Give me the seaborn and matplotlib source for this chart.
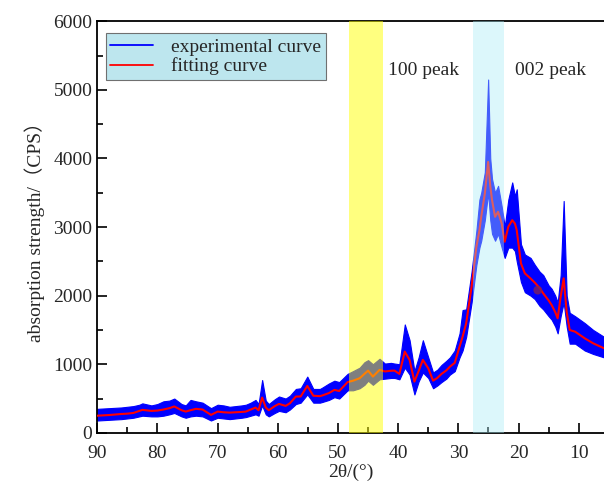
import matplotlib
matplotlib.use('Agg')
import numpy as np
import pandas as pd
import matplotlib.pyplot as plt
import seaborn as sns
from matplotlib.lines import Line2D
from matplotlib.ticker import MultipleLocator

# 2theta grid (deg), fitted curve, and the noisy experimental band (low / high)
two_theta = [90, 88, 86, 85, 84, 83, 82.5, 81, 80, 79, 78, 77.2, 76, 75.3, 74.5, 73.6,
             72.5, 71.1, 70, 69, 68, 67, 66, 65.3, 64.5, 63.7, 63.2, 62.6, 62.0, 61.5,
             60.5, 59.8, 58.7, 58, 57.0, 56.2, 55.1, 54.1, 53, 52.6, 51.5, 50.6, 49.8,
             48.4, 47.5, 46.4, 45.6, 45.0, 44.2, 43.1, 42.2, 41.2, 40.6, 39.8, 38.9,
             38.1, 37.3, 36.6, 35.9, 35.0, 34.2, 33.5, 32.8, 32.0, 31.4, 30.6, 29.8,
             29.3, 28.7, 27.8, 27.0, 26.5, 26.2, 25.6, 25.05, 24.7, 24.4, 23.9, 23.4,
             22.8, 22.3, 21.7, 21.05, 20.6, 20.3, 19.6, 18.95, 18, 17.3, 16.5, 15.9,
             15.0, 14.5, 13.9, 13.5, 13.0, 12.5, 12.0, 11.5, 10.6, 9.0, 7.6, 5.8]
fit = [250, 260, 275, 280, 290, 320, 335, 320, 325, 340, 360, 385, 330, 310, 330, 350,
       340, 262, 310, 300, 295, 300, 305, 310, 340, 368, 330, 514, 370, 330,
       390, 422, 393, 430, 529, 530, 684, 541, 535, 545, 580, 626, 610,
       740, 760, 796, 860, 907, 820, 917, 895, 905, 907, 859, 1184,
       1063, 747, 900, 1063, 941, 761, 800, 859, 910, 965, 1020, 1257,
       1400, 1597, 2130, 2712, 2950, 3149, 3489, 3949, 3600, 3392, 3149, 3222,
       3052, 2785, 3003, 3100, 3050, 2955, 2470, 2325, 2250, 2190, 2110, 2033,
       1930, 1863, 1760, 1669, 1984, 2252, 1760, 1499, 1475, 1378, 1305, 1233]
exp_low = [180, 190, 200, 210, 220, 240, 250, 240, 240, 250, 270, 290, 240, 220, 240, 250,
           240, 180, 220, 210, 200, 210, 220, 230, 250, 270, 250, 400, 270, 240,
           290, 320, 300, 340, 420, 440, 560, 440, 440, 450, 480, 520, 500,
           620, 620, 650, 700, 760, 700, 780, 790, 800, 800, 780, 950,
           850, 560, 750, 880, 800, 650, 690, 740, 790, 850, 900, 1100,
           1200, 1400, 1900, 2450, 2700, 2800, 3100, 3500, 3100, 2900, 2800, 2900,
           2700, 2550, 2700, 2700, 2650, 2500, 2200, 2050, 2000, 1950, 1850, 1800,
           1700, 1650, 1550, 1450, 1700, 1900, 1550, 1300, 1300, 1200, 1150, 1100]
exp_high = [350, 360, 370, 380, 390, 410, 430, 400, 420, 460, 470, 500, 420, 400, 480, 460,
            440, 360, 410, 400, 380, 390, 400, 410, 440, 480, 420, 770, 470, 420,
            490, 530, 500, 540, 640, 650, 820, 640, 640, 660, 720, 760, 740,
            860, 900, 950, 1030, 1060, 1000, 1080, 1010, 1020, 1010, 1000, 1580,
            1350, 900, 1100, 1350, 1100, 880, 920, 990, 1050, 1100, 1200, 1450,
            1790, 1800, 2350, 2950, 3400, 3500, 3800, 5150, 4000, 3700, 3500, 3600,
            3300, 3000, 3400, 3650, 3450, 3550, 2750, 2600, 2550, 2450, 2350, 2300,
            2150, 2100, 2000, 1900, 2300, 3380, 2000, 1750, 1700, 1600, 1500, 1400]

# odd dark blob seen on the reference
blob_x = [16.8]
blob_y = [2080]

df = pd.DataFrame({'two_theta': two_theta, 'fit': fit, 'low': exp_low, 'high': exp_high})

sns.set_style('ticks')
plt.rcParams['font.family'] = ['Liberation Serif', 'Noto Sans CJK SC']

fig = plt.figure(figsize=(6.04, 4.93), dpi=100)
ax = fig.add_axes([0.161, 0.122, 0.839, 0.835])

ax.fill_between(df['two_theta'], df['low'], df['high'], color='#0000FF', lw=0.8, zorder=2)
sns.lineplot(data=df, x='two_theta', y='fit', color='#FF0000', lw=1.5, ax=ax, zorder=3)
ax.scatter(blob_x, blob_y, s=40, color='#80205A', alpha=0.8, zorder=4, edgecolors='none')

# highlighted regions drawn over the curves
ax.axvspan(42.6, 48.1, color='#FFFF00', alpha=0.5, lw=0, zorder=5)
ax.axvspan(22.45, 27.6, color='#A8EBF5', alpha=0.4, lw=0, zorder=5)

ax.text(41.7, 5280, '100 peak', fontsize=14, va='center', ha='left', zorder=6)
ax.text(20.6, 5280, '002 peak', fontsize=14, va='center', ha='left', zorder=6)

ax.set_xlim(90, 5.8)
ax.set_ylim(0, 6000)
ax.xaxis.set_major_locator(MultipleLocator(10))
ax.xaxis.set_minor_locator(MultipleLocator(5))
ax.yaxis.set_major_locator(MultipleLocator(1000))
ax.yaxis.set_minor_locator(MultipleLocator(500))
ax.tick_params(which='both', direction='in', labelsize=14, width=1.2, color='black')
ax.tick_params(which='major', length=7)
ax.tick_params(which='minor', length=4)
ax.tick_params(axis='x', pad=9)

for side in ['left', 'bottom', 'top']:
    ax.spines[side].set_linewidth(1.3)
    ax.spines[side].set_color('black')
ax.spines['right'].set_visible(False)

ax.set_xlabel('2θ/(°)', fontsize=14, labelpad=1)
ax.set_ylabel('absorption strength/（CPS）', fontsize=14, labelpad=6)

handles = [Line2D([], [], color='#0000FF', lw=1.3), Line2D([], [], color='#FF0000', lw=1.3)]
leg = ax.legend(handles, ['experimental curve', 'fitting curve'], loc='upper left',
                bbox_to_anchor=(0.005, 0.985), fontsize=14, frameon=True, fancybox=False,
                handlelength=2.2, handletextpad=0.9, borderpad=0.25, labelspacing=0.1,
                borderaxespad=0.3)
leg.get_frame().set_facecolor('#BDE6EE')
leg.get_frame().set_edgecolor('#707070')
leg.get_frame().set_alpha(1)
leg.get_frame().set_linewidth(0.8)
leg.set_zorder(7)

fig.savefig('out.png', dpi=100)
